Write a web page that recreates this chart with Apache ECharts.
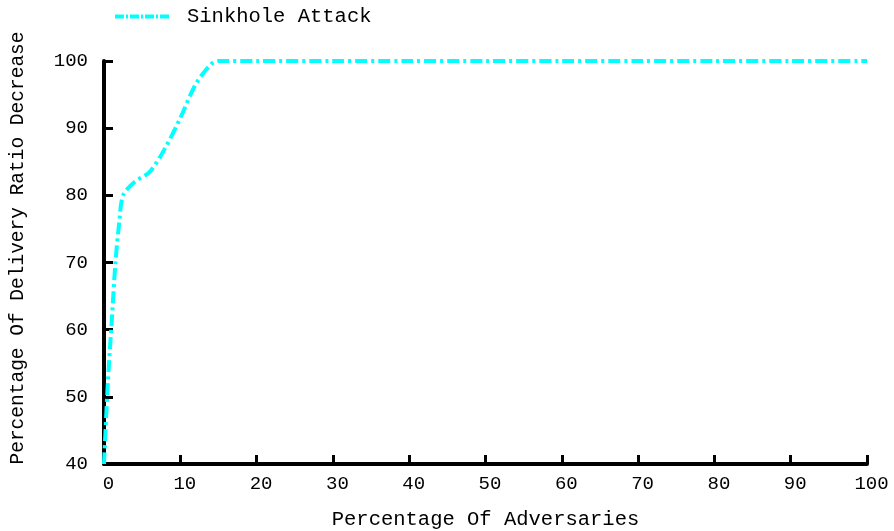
<!DOCTYPE html>
<html><head><meta charset="utf-8">
<script src="https://cdn.jsdelivr.net/npm/echarts@6/dist/echarts.min.js"></script>
<style>html,body{margin:0;padding:0;background:#fff}#c{width:894px;height:531px}</style>
</head><body><div id="c"></div>
<script>
const adversaries = [0, 0.5, 1, 1.5, 2, 2.5, 4, 6, 8, 10, 12, 14, 15, 20, 30, 40, 50, 60, 70, 80, 90, 100];
const sinkhole =    [40, 52, 61, 70, 76, 80, 82, 83.5, 87, 91.5, 96.5, 99.5, 100, 100, 100, 100, 100, 100, 100, 100, 100, 100];
const xTicks = [0,10,20,30,40,50,60,70,80,90,100];
const yTicks = [40,50,60,70,80,90,100];
const font = '"Liberation Mono", "DejaVu Sans Mono", monospace';
const fs = 19, fsName = 20.5, fsYName = 19.5;
const dashIcon = 'path://M0,0h9v4h-9z M11,0h2v4h-2z M15,0h9v4h-9z M26,0h2v4h-2z M30,0h9v4h-9z M41,0h2v4h-2z M45,0h9v4h-9z';
const chart = echarts.init(document.getElementById('c'));
chart.setOption({
  animation: false,
  backgroundColor: '#fff',
  grid: {left: 104, right: 27, top: 61, bottom: 67, outerBoundsMode: 'none', containLabel: false},
  legend: {
    left: 115, top: 6, padding: 0, itemWidth: 60, itemHeight: 4, itemGap: 10,
    textStyle: {fontFamily: font, fontSize: fsName, color: '#000', padding: [0, 0, 0, 10]},
    data: [{name: 'Sinkhole Attack', icon: dashIcon, itemStyle: {color: '#00FFFF'}}]
  },
  xAxis: {
    type: 'value', min: xTicks[0], max: xTicks[xTicks.length-1], interval: 10,
    name: 'Percentage Of Adversaries', nameLocation: 'middle', nameGap: 45,
    nameTextStyle: {fontFamily: font, fontSize: fsName, color: '#000'},
    axisLine: {lineStyle: {color: '#000', width: 4}},
    axisTick: {inside: true, length: 9, lineStyle: {color: '#000', width: 3}},
    axisLabel: {fontFamily: font, fontSize: fs, color: '#000', margin: 10, padding: [0, 0, 0, 9]},
    splitLine: {show: false}
  },
  yAxis: {
    type: 'value', min: yTicks[0], max: yTicks[yTicks.length-1], interval: 10,
    name: 'Percentage Of Delivery Ratio Decrease', nameLocation: 'middle', nameGap: 76,
    nameTextStyle: {fontFamily: font, fontSize: fsYName, color: '#000', padding: [0, 0, 0, 29]},
    axisLine: {show: true, lineStyle: {color: '#000', width: 4}},
    axisTick: {show: true, inside: true, length: 9, lineStyle: {color: '#000', width: 3}},
    axisLabel: {fontFamily: font, fontSize: fs, color: '#000', margin: 16},
    splitLine: {show: false}
  },
  series: [{
    name: 'Sinkhole Attack', type: 'line', smooth: 0.3, symbol: 'none',
    data: adversaries.map((x, i) => [x, sinkhole[i]]),
    lineStyle: {color: '#00FFFF', width: 4, type: [12, 4, 3, 4]},
    itemStyle: {color: '#00FFFF'}
  }]
});
</script></body></html>
